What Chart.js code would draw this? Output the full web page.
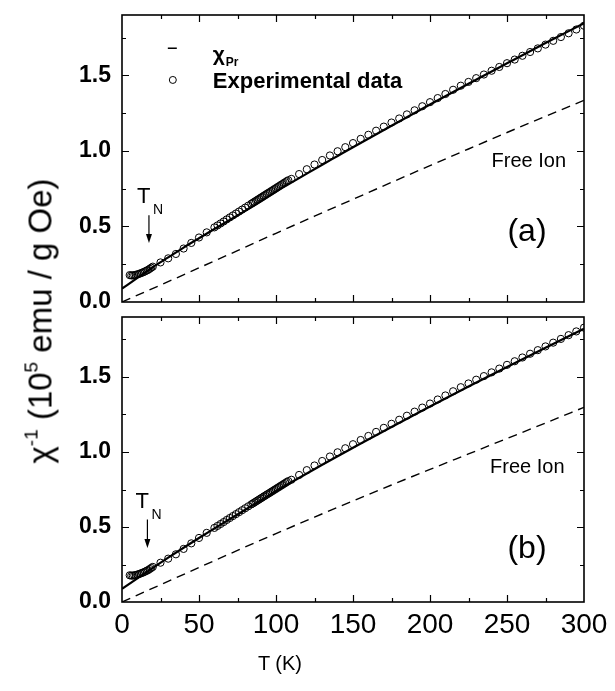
<!DOCTYPE html>
<html>
<head>
    <script src="https://cdn.jsdelivr.net/npm/chart.js"></script>
    <style>
        body { margin: 0; background: #fff; }
        #wrap { position: relative; width: 615px; height: 691px; font-family: "Liberation Sans", Arial, sans-serif; }
        canvas { position: absolute; left: 0; }
        #ytitle {
            position: absolute; left: 40px; top: 321px;
            transform: translate(-50%, -50%) rotate(-90deg);
            white-space: nowrap; font-size: 33px; color: #000;
        }
        #ytitle sup { font-size: 19px; vertical-align: 14px; }
        #xtitle { position: absolute; left: 280px; top: 663px; transform: translate(-50%, -50%); font-size: 20px; }
    </style>
</head>
<body>
<div id="wrap">
    <canvas id="panelA" width="615" height="320" style="top:0"></canvas>
    <canvas id="panelB" width="615" height="386" style="top:305px"></canvas>
    <div id="ytitle">&chi;<sup>-1</sup> (10<sup>5</sup> emu / g Oe)</div>
    <div id="xtitle">T (K)</div>
</div>

<script>
    // experimental inverse susceptibility (same measurement in both panels)
    const tempExp = [5, 6, 7, 8, 9, 10, 11, 12, 13, 14, 15, 16, 17, 18, 19, 20,
        25, 30, 35, 40, 45, 50, 55, 60,
        62, 64, 66, 68, 70, 72, 74, 76, 78, 80, 82, 84,
        85, 86, 87, 88, 89, 90, 91, 92, 93, 94, 95, 96, 97, 98, 99, 100,
        101, 102, 103, 104, 105, 106, 107, 108,
        110, 115, 120, 125, 130, 135, 140, 145, 150, 155, 160, 165, 170, 175, 180, 185,
        190, 195, 200, 205, 210, 215, 220, 225, 230, 235, 240, 245, 250, 255, 260, 265,
        270, 275, 280, 285, 290, 295, 300];
    const chiExp = [0.178, 0.176, 0.176, 0.178, 0.180, 0.183, 0.186, 0.190, 0.194, 0.198, 0.203, 0.208, 0.213, 0.220, 0.227, 0.234,
        0.262, 0.289, 0.318, 0.354, 0.391, 0.427, 0.461, 0.494,
        0.507, 0.520, 0.533, 0.547, 0.560, 0.573, 0.586, 0.599, 0.612, 0.625, 0.638, 0.651,
        0.657, 0.664, 0.670, 0.677, 0.683, 0.690, 0.696, 0.703, 0.709, 0.716, 0.722, 0.728, 0.735, 0.741, 0.748, 0.754,
        0.761, 0.767, 0.774, 0.780, 0.787, 0.793, 0.800, 0.806,
        0.815, 0.847, 0.879, 0.910, 0.940, 0.970, 0.998, 1.025, 1.052, 1.080, 1.107, 1.134, 1.161, 1.188, 1.215, 1.242,
        1.269, 1.296, 1.323, 1.350, 1.377, 1.405, 1.432, 1.457, 1.482, 1.506, 1.531, 1.556, 1.581, 1.605, 1.630, 1.655,
        1.679, 1.704, 1.729, 1.754, 1.779, 1.804, 1.829];

    // calculated chi_Pr curves
    const tempFit = [0, 10, 20, 30, 40, 50, 60, 70, 80, 90, 100, 110, 120, 130, 140, 150, 175, 200, 225, 250, 275, 300];
    const chiPrA = [0.088, 0.160, 0.230, 0.295, 0.360, 0.422, 0.483, 0.543, 0.603, 0.665, 0.730, 0.790, 0.850, 0.909, 0.967, 1.025, 1.167, 1.307, 1.445, 1.580, 1.714, 1.845];
    const chiPrB = [0.088, 0.158, 0.228, 0.296, 0.362, 0.427, 0.490, 0.553, 0.615, 0.677, 0.738, 0.798, 0.857, 0.915, 0.972, 1.028, 1.167, 1.303, 1.437, 1.567, 1.695, 1.822];

    // free ion curves
    const tempFree = [0, 25, 50, 75, 100, 125, 150, 175, 200, 225, 250, 275, 300];
    const freeIonA = [0.0, 0.112, 0.226, 0.340, 0.455, 0.568, 0.680, 0.792, 0.903, 1.013, 1.122, 1.229, 1.335];
    const freeIonB = [0.0, 0.115, 0.230, 0.344, 0.456, 0.566, 0.674, 0.780, 0.884, 0.987, 1.090, 1.193, 1.298];

    const xTicks = [0, 50, 100, 150, 200, 250, 300];
    const yTicks = [0, 0.5, 1.0, 1.5];

    const FONT = '"Liberation Sans", Arial, sans-serif';
    const pts = (xs, ys) => xs.map((v, i) => ({ x: v, y: ys[i] }));

    // box around the plot with inward ticks on all four sides
    const framePlugin = {
        id: 'frame',
        afterDatasetsDraw(chart) {
            const { ctx, chartArea: a, scales: { x, y } } = chart;
            ctx.save();
            ctx.strokeStyle = '#000';
            ctx.lineWidth = 1.2;
            ctx.beginPath();
            for (let t = 25; t < 300; t += 25) {
                const px = Math.round(x.getPixelForValue(t)) + 0.5;
                const len = t % 50 === 0 ? 7 : 4;
                ctx.moveTo(px, a.bottom); ctx.lineTo(px, a.bottom - len);
                ctx.moveTo(px, a.top); ctx.lineTo(px, a.top + len);
            }
            for (let k = 1; k <= 7; k++) {
                const py = Math.round(y.getPixelForValue(k * 0.25)) + 0.5;
                const len = k % 2 === 0 ? 7 : 4;
                ctx.moveTo(a.left, py); ctx.lineTo(a.left + len, py);
                ctx.moveTo(a.right, py); ctx.lineTo(a.right - len, py);
            }
            ctx.stroke();
            ctx.lineWidth = 1.6;
            ctx.strokeRect(a.left, a.top, a.right - a.left, a.bottom - a.top);
            ctx.restore();
        }
    };

    // panel labels, T_N arrow, free ion label, legend
    const notesPlugin = {
        id: 'notes',
        afterDraw(chart, args, o) {
            const { ctx, scales: { x, y } } = chart;
            ctx.save();
            ctx.fillStyle = '#000';
            ctx.strokeStyle = '#000';

            // T_N marker
            const ax = x.getPixelForValue(o.tn);
            const y0 = y.getPixelForValue(o.arrowTop);
            const y1 = y.getPixelForValue(o.arrowBottom);
            ctx.font = '22px ' + FONT;
            ctx.textAlign = 'left';
            ctx.textBaseline = 'alphabetic';
            ctx.fillText('T', ax - 12, y0 - 12);
            ctx.font = '14px ' + FONT;
            ctx.fillText('N', ax + 4, y0 - 1);
            ctx.lineWidth = 1.2;
            ctx.beginPath();
            ctx.moveTo(ax, y0); ctx.lineTo(ax, y1 - 6);
            ctx.stroke();
            ctx.beginPath();
            ctx.moveTo(ax - 3, y1 - 9); ctx.lineTo(ax + 3, y1 - 9); ctx.lineTo(ax, y1);
            ctx.closePath(); ctx.fill();

            // free ion label
            ctx.font = '20px ' + FONT;
            ctx.fillText('Free Ion', x.getPixelForValue(o.freeX), y.getPixelForValue(o.freeY));

            // panel letter
            ctx.font = '32px ' + FONT;
            ctx.textAlign = 'center';
            ctx.textBaseline = 'middle';
            ctx.fillText(o.panel, x.getPixelForValue(263), y.getPixelForValue(o.panelY));

            if (o.legend) {
                const lx = x.getPixelForValue(33);
                const ly1 = y.getPixelForValue(1.68);
                const ly2 = y.getPixelForValue(1.47);
                ctx.lineWidth = 1.5;
                ctx.beginPath();
                ctx.moveTo(lx - 5, ly1); ctx.lineTo(lx + 4, ly1);
                ctx.stroke();
                ctx.lineWidth = 1;
                ctx.beginPath();
                ctx.arc(lx, ly2, 3.5, 0, Math.PI * 2);
                ctx.stroke();
                ctx.textAlign = 'left';
                ctx.textBaseline = 'alphabetic';
                ctx.font = 'bold 21px ' + FONT;
                ctx.fillText('\u03c7', lx + 40, ly1 + 13);
                ctx.font = 'bold 12px ' + FONT;
                ctx.fillText('Pr', lx + 53, ly1 + 18);
                ctx.font = 'bold 22px ' + FONT;
                ctx.fillText('Experimental data', lx + 40, ly2 + 8);
            }
            ctx.restore();
        }
    };

    function makePanel(id, chiPr, freeIon, bottom, notes) {
        return new Chart(document.getElementById(id), {
            type: 'scatter',
            data: {
                datasets: [
                    {
                        label: 'Experimental data',
                        data: pts(tempExp, chiExp),
                        pointStyle: 'circle',
                        pointRadius: 3.6,
                        pointBorderWidth: 1,
                        borderColor: '#000',
                        backgroundColor: 'rgba(0,0,0,0)'
                    },
                    {
                        label: 'chi_Pr',
                        data: pts(tempFit, chiPr),
                        showLine: true,
                        borderColor: '#000',
                        borderWidth: 2.2,
                        pointRadius: 0,
                        cubicInterpolationMode: 'monotone'
                    },
                    {
                        label: 'Free Ion',
                        data: pts(tempFree, freeIon),
                        showLine: true,
                        borderColor: '#000',
                        borderWidth: 1.4,
                        borderDash: [9, 6],
                        pointRadius: 0,
                        cubicInterpolationMode: 'monotone'
                    }
                ]
            },
            options: {
                responsive: false,
                animation: false,
                devicePixelRatio: 1,
                layout: { padding: bottom ? { top: 12, right: 31, bottom: 0, left: 0 } : { top: 15, right: 31, bottom: 18, left: 0 } },
                plugins: { legend: { display: false }, tooltip: { enabled: false }, notes: notes },
                scales: {
                    x: {
                        type: 'linear', min: 0, max: 300,
                        display: bottom,
                        grid: { display: false, drawTicks: false },
                        border: { display: false },
                        afterBuildTicks: s => { s.ticks = xTicks.map(v => ({ value: v })); },
                        afterFit: s => {
                            s.height = bottom ? 89 : 0;
                            s.paddingLeft = 0; s.paddingRight = 0;
                        },
                        ticks: { color: '#000', font: { family: FONT, size: 28 }, padding: 6, maxRotation: 0 }
                    },
                    y: {
                        type: 'linear', min: 0, max: 1.9,
                        grid: { display: false, drawTicks: false },
                        border: { display: false },
                        afterBuildTicks: s => { s.ticks = yTicks.map(v => ({ value: v })); },
                        afterFit: s => {
                            s.width = 122;
                            s.paddingTop = 0; s.paddingBottom = 0;
                        },
                        ticks: { color: '#000', font: { family: FONT, size: 23, weight: 'bold' }, padding: 11,
                            callback: v => v.toFixed(1) }
                    }
                }
            },
            plugins: [framePlugin, notesPlugin]
        });
    }

    makePanel('panelA', chiPrA, freeIonA, false,
        { tn: 17.5, arrowTop: 0.575, arrowBottom: 0.39, freeX: 240, freeY: 0.895, panel: '(a)', panelY: 0.46, legend: true });
    makePanel('panelB', chiPrB, freeIonB, true,
        { tn: 16.5, arrowTop: 0.55, arrowBottom: 0.36, freeX: 239, freeY: 0.86, panel: '(b)', panelY: 0.355, legend: false });
</script>
</body>
</html>
